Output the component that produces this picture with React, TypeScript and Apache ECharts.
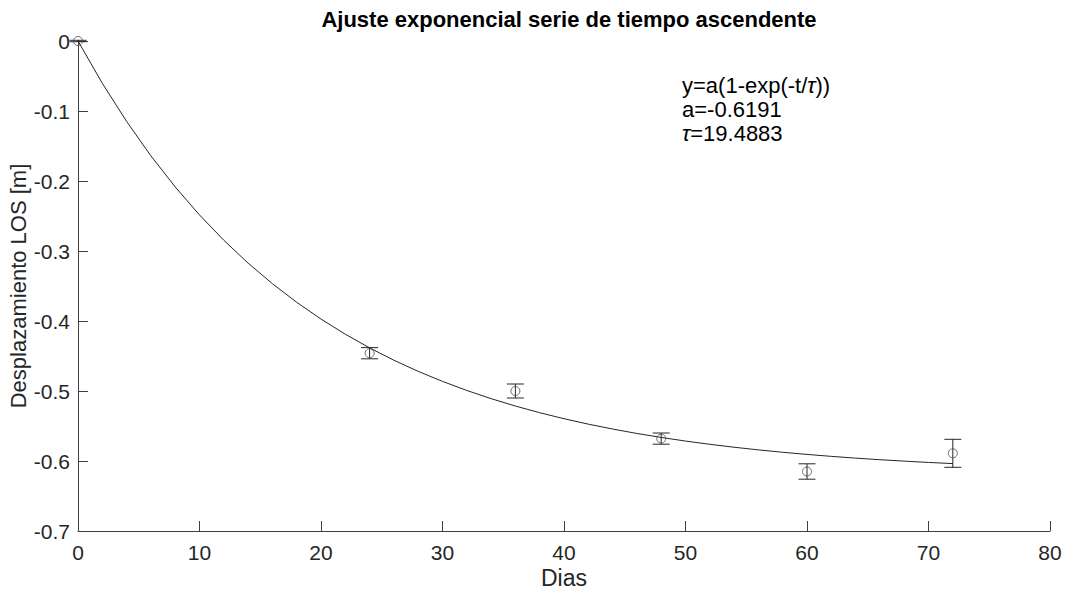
import React, { useEffect, useRef } from "react";
import * as echarts from "echarts";

const days = [0, 24, 36, 48, 60, 72];
const displacement = [0, -0.446, -0.5, -0.568, -0.615, -0.589];
const errors = [0.001, 0.008, 0.01, 0.008, 0.011, 0.02];

const fitDays = [0, 2, 4, 6, 8, 10, 12, 14, 16, 18, 20, 22, 24, 26, 28, 30, 32, 34, 36, 38, 40, 42, 44, 46, 48, 50, 52, 54, 56, 58, 60, 62, 64, 66, 68, 70, 72];
const fitValues = [0, -0.06039, -0.11487, -0.16405, -0.20844, -0.24849, -0.28464, -0.31726, -0.3467, -0.37327, -0.39724, -0.41888, -0.43841, -0.45603, -0.47193, -0.48629, -0.49924, -0.51093, -0.52148, -0.531, -0.53959, -0.54735, -0.55435, -0.56066, -0.56636, -0.5715, -0.57615, -0.58034, -0.58411, -0.58753, -0.5906, -0.59338, -0.59589, -0.59815, -0.6002, -0.60204, -0.60371];

const titleText = "Ajuste exponencial serie de tiempo ascendente";
const xName = "Dias";
const yName = "Desplazamiento LOS [m]";
const annotation = ["y=a(1-exp(-t/{i|τ}))", "a=-0.6191", "{i|τ}=19.4883"];

const FONT = "'Liberation Sans', Arial, sans-serif";
const TXT = "#262626";
const AX = "#404040";

export default function App() {
  const ref = useRef<HTMLDivElement>(null);
  useEffect(() => {
    if (!ref.current) return;
    const chart = echarts.init(ref.current, undefined, { renderer: "svg" });
    const option: any = {
      animation: false,
      backgroundColor: "#ffffff",
      textStyle: { fontFamily: FONT },
      title: {
        text: titleText,
        left: 564,
        textAlign: "center",
        top: 3,
        textStyle: { fontFamily: FONT, fontSize: 22, fontWeight: "bold", color: "#000" },
      },
      grid: {
        left: 78,
        top: 41,
        width: 972,
        height: 490,
        containLabel: false,
        outerBoundsMode: "none",
      },
      xAxis: {
        type: "value",
        min: 0,
        max: 80,
        interval: 10,
        name: xName,
        nameLocation: "middle",
        nameGap: 35,
        nameMoveOverlap: false,
        nameTextStyle: { fontFamily: FONT, fontSize: 23, color: TXT },
        axisLine: { show: true, onZero: false, lineStyle: { color: AX, width: 1 } },
        axisTick: { show: true, inside: true, length: 10, lineStyle: { color: AX } },
        axisLabel: { fontFamily: FONT, fontSize: 21, color: TXT, margin: 11 },
        splitLine: { show: false },
      },
      yAxis: {
        type: "value",
        min: -0.7,
        max: 0,
        interval: 0.1,
        name: yName,
        nameLocation: "middle",
        nameGap: 49,
        nameMoveOverlap: false,
        nameTextStyle: { fontFamily: FONT, fontSize: 22, color: TXT },
        axisLine: { show: true, onZero: false, lineStyle: { color: AX, width: 1 } },
        axisTick: { show: true, inside: true, length: 10, lineStyle: { color: AX } },
        axisLabel: {
          fontFamily: FONT,
          fontSize: 21,
          color: TXT,
          margin: 8,
          formatter: (v: number) => (Math.abs(v) < 1e-9 ? "0" : v.toFixed(1)),
        },
        splitLine: { show: false },
      },
      graphic: annotation.map((t, i) => ({
        type: "text",
        left: 682,
        top: 74 + i * 24,
        style: {
          text: t,
          fontFamily: FONT,
          fontSize: 22,
          fill: "#000",
          rich: { i: { fontFamily: FONT, fontSize: 22, fontStyle: "italic", fill: "#000" } },
        },
      })),
      series: [
        {
          type: "line",
          data: fitDays.map((d, i) => [d, fitValues[i]]),
          showSymbol: false,
          symbol: "none",
          lineStyle: { color: "#262626", width: 1 },
          z: 2,
        },
        {
          type: "custom",
          data: days.map((d, i) => [d, displacement[i] - errors[i], displacement[i] + errors[i]]),
          renderItem: (params: any, api: any) => {
            const x = api.value(0);
            const lo = api.coord([x, api.value(1)]);
            const hi = api.coord([x, api.value(2)]);
            const cap = 8.5;
            const style = { stroke: "#262626", lineWidth: 1 };
            return {
              type: "group",
              children: [
                { type: "line", shape: { x1: lo[0], y1: lo[1], x2: hi[0], y2: hi[1] }, style },
                { type: "line", shape: { x1: lo[0] - cap, y1: lo[1], x2: lo[0] + cap, y2: lo[1] }, style },
                { type: "line", shape: { x1: hi[0] - cap, y1: hi[1], x2: hi[0] + cap, y2: hi[1] }, style },
              ],
            };
          },
          z: 3,
        },
        {
          type: "scatter",
          data: days.map((d, i) => [d, displacement[i]]),
          symbol: "circle",
          symbolSize: 9,
          itemStyle: { color: "rgba(255,255,255,0)", borderColor: "#3d4b5c", borderWidth: 1 },
          z: 4,
        },
      ],
    };
    chart.setOption(option);
    return () => chart.dispose();
  }, []);
  return (
    <div
      ref={ref}
      style={{ position: "fixed", left: 0, top: 0, width: 1065, height: 595 }}
    />
  );
}
